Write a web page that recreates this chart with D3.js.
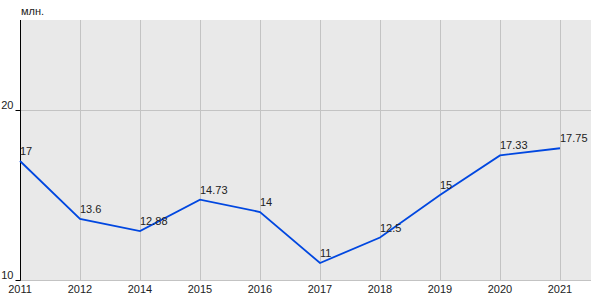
<!DOCTYPE html>
<html>
<head>
<meta charset="utf-8">
<script src="https://cdn.jsdelivr.net/npm/d3@7"></script>
<style>
  html, body { margin: 0; padding: 0; background: #fff; }
  svg text { font-family: Arial, "Liberation Sans", sans-serif; font-size: 11px; fill: #222; }
</style>
</head>
<body>
<div id="chart"></div>
<script>
// values
const years  = ["2011", "2012", "2014", "2015", "2016", "2017", "2018", "2019", "2020", "2021"];
const values = [17, 13.6, 12.88, 14.73, 14, 11, 12.5, 15, 17.33, 17.75];
const labels = ["17", "13.6", "12.88", "14.73", "14", "11", "12.5", "15", "17.33", "17.75"];
const yTicks = [10, 20];
const unit = "млн.";

const W = 600, H = 300;
const mL = 20, mT = 20, mR = 591, mB = 280;
const step = 60;

const svg = d3.select("#chart").append("svg")
  .attr("width", W).attr("height", H);

const x = d3.scalePoint().domain(years)
  .range([mL, mL + step * (years.length - 1)]);
const y = d3.scaleLinear().domain([10, 10 + (mB - mT) / 17]).range([mB, mT]);

// plot background
svg.append("rect")
  .attr("x", mL).attr("y", mT)
  .attr("width", mR - mL).attr("height", mB - mT)
  .attr("fill", "#e9e9e9");

// gridlines
svg.append("g").selectAll("line").data(years.slice(1)).join("line")
  .attr("x1", d => x(d) + 0.5).attr("x2", d => x(d) + 0.5)
  .attr("y1", mT).attr("y2", mB)
  .attr("stroke", "#c3c3c3").attr("stroke-width", 1);

svg.append("g").selectAll("line").data(yTicks.filter(t => t > 10)).join("line")
  .attr("x1", mL).attr("x2", mR)
  .attr("y1", d => Math.round(y(d)) + 0.5).attr("y2", d => Math.round(y(d)) + 0.5)
  .attr("stroke", "#c3c3c3");

// bottom border
svg.append("line")
  .attr("x1", mL).attr("x2", mR)
  .attr("y1", mB + 0.5).attr("y2", mB + 0.5)
  .attr("stroke", "#c3c3c3");

// y axis
const yAxis = svg.append("g")
  .attr("transform", `translate(${mL + 0.5},0)`)
  .call(d3.axisLeft(y).tickValues(yTicks).tickSize(5).tickSizeOuter(0));
yAxis.select(".domain").attr("stroke", "#000").attr("d", `M0,${mT}V${mB + 0.5}`);
yAxis.selectAll(".tick line").attr("stroke", "#000");
yAxis.selectAll(".tick text").attr("x", -7).attr("dy", "-0.1em")
  .style("font-family", "Arial, 'Liberation Sans', sans-serif").style("font-size", "11px").attr("fill", "#222");

// x labels
svg.append("g").selectAll("text").data(years).join("text")
  .attr("x", d => x(d)).attr("y", 293)
  .attr("text-anchor", "middle")
  .text(d => d);

// unit
svg.append("text").attr("x", 21).attr("y", 15).text(unit);

// line
const pts = years.map((d, i) => [x(d), y(values[i])]);
svg.append("path")
  .attr("d", d3.line()(pts))
  .attr("fill", "none")
  .attr("stroke", "#0047e0")
  .attr("stroke-width", 1.8);

// data labels
svg.append("g").selectAll("text").data(years).join("text")
  .attr("x", (d, i) => x(d))
  .attr("y", (d, i) => y(values[i]) - 6)
  .text((d, i) => labels[i]);
</script>
</body>
</html>
